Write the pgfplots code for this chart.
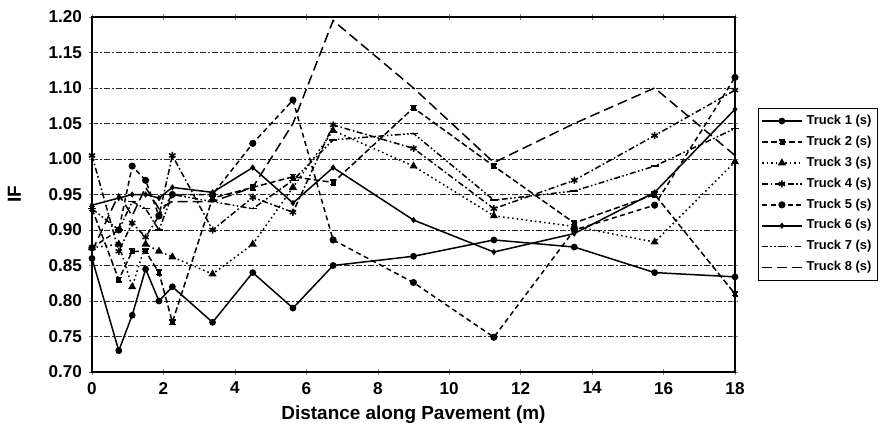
\documentclass[border=0pt]{standalone}
\usepackage{fontspec}
\setmainfont{Liberation Sans}
\usepackage{pgfplots}
\usepackage{pgfplotstable}
\pgfplotsset{compat=1.18}

% impact factor along the pavement, one column per truck
\pgfplotstableread{
x      t1    t2    t3    t4    t5    t6    t7    t8
0      0.86  0.93  0.875 1.005 0.875 0.935 0.93  0.87
0.75   0.73  0.83  0.88  0.87  0.90  0.945 0.90  0.95
1.125  0.78  0.87  0.82  0.91  0.99  0.95  0.94  0.92
1.5    0.845 0.87  0.88  0.89  0.97  0.95  0.93  0.96
1.875  0.80  0.84  0.87  0.92  0.92  0.945 0.90  0.93
2.25   0.82  0.77  0.862 1.005 0.95  0.96  0.95  0.94
3.375  0.77  0.945 0.838 0.90  0.95  0.953 0.94  0.94
4.5    0.84  0.96  0.88  0.946 1.022 0.988 0.93  0.96
5.625  0.79  0.975 0.96  0.925 1.083 0.938 0.97  1.05
6.75   0.85  0.967 1.04  1.048 0.886 0.988 1.027 1.195
9      0.863 1.072 0.99  1.015 0.826 0.914 1.036 1.10
11.25  0.886 0.99  0.92  0.93  0.749 0.869 0.942 0.995
13.5   0.876 0.91  0.905 0.97  0.90  0.895 0.955 1.05
15.75  0.84  0.95  0.883 1.033 0.935 0.953 0.99  1.10
18     0.834 0.81  0.996 1.097 1.115 1.07  1.043 1.005
}\trucks

\begin{document}
\begin{tikzpicture}
\useasboundingbox (-46bp,-34bp) rectangle (399.5bp,186bp);
\begin{axis}[
    at={(0,0)}, anchor=south west,
    scale only axis,
    width=321.5bp, height=177.5bp,
    xmin=0, xmax=18, ymin=0.70, ymax=1.20,
    xtick={0,2,...,18},
    ytick={0.70,0.75,...,1.21},
    /pgf/number format/assume math mode=true,
    yticklabel style={/pgf/number format/.cd,fixed,fixed zerofill,precision=2},
    tick label style={font=\fontsize{8.6}{10}\selectfont\bfseries},
    label style={font=\fontsize{9.5}{11}\selectfont\bfseries},
    xlabel={Distance along Pavement (m)},
    ylabel={IF},
    xlabel style={yshift=1bp},
    ylabel style={yshift=7bp},
    tick align=center,
    major tick length=3bp,
    axis line style={line width=0.9bp},
    ymajorgrids,
    major grid style={black!85, line width=0.5bp, dash pattern=on 3bp off 1bp on 1bp off 1bp},
    every axis plot/.append style={black, line width=0.75bp, mark size=1.4bp},
    legend style={at={(1.036,0.744)}, anchor=north west, draw=black, line width=0.6bp,
        font=\fontsize{6.5}{7.5}\selectfont\bfseries, inner sep=1.2bp,
        row sep=0.3bp},
    legend cell align=left,
    legend image code/.code={\draw[mark repeat=2,mark phase=2] plot coordinates {(0bp,0bp) (10bp,0bp) (20bp,0bp)};},
]
\addplot[mark=*, mark size=1.3bp] table[y=t1] {\trucks};
\addplot[dash pattern=on 3bp off 1.5bp, mark=square*, mark size=1.2bp] table[y=t2] {\trucks};
\addplot[dash pattern=on 0.8bp off 1.5bp, mark=triangle*, mark size=1.6bp, mark options={solid}] table[y=t3] {\trucks};
\addplot[dash pattern=on 3bp off 1.3bp on 0.8bp off 1.3bp, mark=asterisk, mark size=1.8bp, mark options={solid}] table[y=t4] {\trucks};
\addplot[dash pattern=on 2.5bp off 1.8bp, mark=*, mark size=1.4bp, mark options={solid}] table[y=t5] {\trucks};
\addplot[mark=diamond*, mark size=1bp] table[y=t6] {\trucks};
\addplot[dash pattern=on 3bp off 1.2bp on 0.8bp off 1.2bp on 0.8bp off 1.2bp, mark=-, mark size=2bp, mark options={solid}] table[y=t7] {\trucks};
\addplot[dash pattern=on 5bp off 2.5bp, mark=none] table[y=t8] {\trucks};
\legend{Truck 1 (s),Truck 2 (s),Truck 3 (s),Truck 4 (s),Truck 5 (s),Truck 6 (s),Truck 7 (s),Truck 8 (s)}
\end{axis}
\end{tikzpicture}
\end{document}
